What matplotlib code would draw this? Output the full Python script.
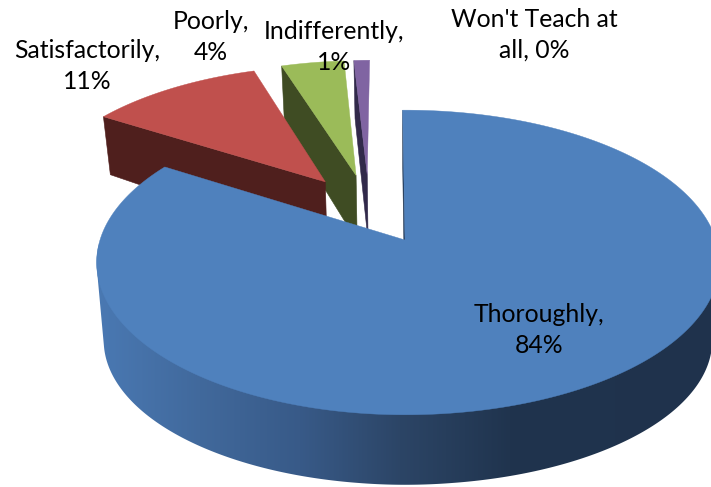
import numpy as np
import matplotlib
matplotlib.use("Agg")
import matplotlib.pyplot as plt
from matplotlib.colors import to_rgb
from matplotlib.patches import Polygon

# Data
categories = ["Thoroughly", "Satisfactorily", "Poorly", "Indifferently", "Won't Teach at all"]
percent_values = [84, 11, 4, 1, 0]
label_texts = ["Thoroughly,\n84%", "Satisfactorily,\n11%", "Poorly,\n4%",
               "Indifferently,\n1%", "Won't Teach at\nall, 0%"]

# Style
top_colors = ["#4f81bd", "#c0504d", "#9bbb59", "#8064a2", "#4bacc6"]
side_colors = ["#1f3552", "#4f1f1d", "#3f4c23", "#31294a", "#1e4450"]
label_pos = [(539, 330), (87, 66), (211, 37), (334, 47), (534, 35)]
GRAD_STOPS = [(96, "#4a79b3"), (200, "#41699c"), (300, "#385a88"), (400, "#2c4566"),
              (510, "#20344e"), (720, "#1f324c")]
PX, PY, RX, RY, K = 405.0, 240.0, 305.0, 149.0, 0.1475
RX_RIGHT = 311.0
EXPLODE = 0.25
START = -0.5
XS = 0.977


def project(u, v):
    w = 1 + K * v
    r = np.where(np.asarray(u) > 0, RX_RIGHT, RX)
    return PX + r * u / w, PY - RY * v / w


def lower(x, y):
    d = np.interp(y, [117, 262, 340, 413], [58, 78, 74, 70])
    return PX + (x - PX) * XS, y + d


def hull(points):
    pts = sorted(map(tuple, points))

    def half(seq):
        out = []
        for p in seq:
            while len(out) >= 2 and ((out[-1][0] - out[-2][0]) * (p[1] - out[-2][1])
                                     - (out[-1][1] - out[-2][1]) * (p[0] - out[-2][0])) <= 0:
                out.pop()
            out.append(p)
        return out[:-1]

    return np.array(half(pts) + half(pts[::-1]))


fr = np.array(percent_values, float)
edges = START + np.concatenate([[0], np.cumsum(fr)]) * 3.6
mids = np.radians((edges[:-1] + edges[1:]) / 2)
cu = -EXPLODE * np.sin(mids[0])
cv = -EXPLODE * np.cos(mids[0])

fig = plt.figure(figsize=(7.11, 4.87), dpi=100)
ax = fig.add_axes([0, 0, 1, 1])
ax.axis("off")

gx = np.arange(0, 760)
gcs = np.array([to_rgb(s[1]) for s in GRAD_STOPS])
gxs = [s[0] for s in GRAD_STOPS]
grad_img = np.stack([np.interp(gx, gxs, gcs[:, i]) for i in range(3)], axis=-1)[None, :, :]

for i in reversed(range(len(fr))):
    if fr[i] <= 0:
        continue
    z = 1 + (len(fr) - i) * 0.1
    a0, a1 = edges[i], edges[i + 1]
    ou = cu + EXPLODE * np.sin(mids[i])
    ov = cv + EXPLODE * np.cos(mids[i])
    th = np.radians(np.arange(a0, a1 + 0.25, 0.25))
    th[-1] = np.radians(a1)
    rx, ry = project(ou + np.sin(th), ov + np.cos(th))
    ax_, ay_ = project(ou, ov)
    bx, by = lower(rx, ry)
    abx, aby = lower(ax_, ay_)
    ax.fill([ax_, rx[0], bx[0], abx], [ay_, ry[0], by[0], aby],
            color=side_colors[i], lw=0.4, zorder=z)
    if i == 0:
        vis = ry >= 245
        wall = hull(np.column_stack([np.r_[rx[vis], bx[vis]], np.r_[ry[vis], by[vis]]]))
        poly = Polygon(wall, closed=True, transform=ax.transData, fc="none", ec="none")
        ax.add_patch(poly)
        im = ax.imshow(grad_img, extent=(0, 760, 487, 0), aspect="auto",
                       interpolation="bilinear", zorder=z)
        im.set_clip_path(poly)
    ax.fill(np.r_[ax_, rx], np.r_[ay_, ry], color=top_colors[i], lw=0.3, zorder=z + 0.05)

ax.set_xlim(0, 711)
ax.set_ylim(487, 0)

for txt, (x, y) in zip(label_texts, label_pos):
    ax.text(x, y, txt, ha="center", va="center", fontsize=17.8, family="Lato",
            color="black", linespacing=1.4, zorder=3)

fig.savefig("out.png", dpi=100, facecolor="white")
